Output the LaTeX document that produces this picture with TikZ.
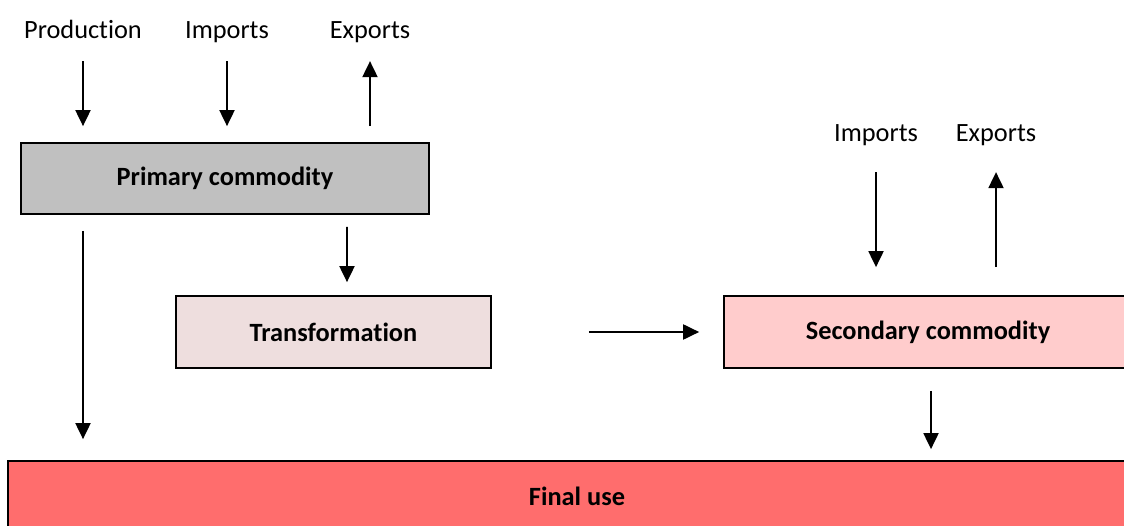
\documentclass[tikz,border=0pt]{standalone}
\usepackage{fontspec}
\setmainfont{Carlito}[Ligatures=NoCommon]
\usetikzlibrary{arrows.meta}
\definecolor{primgray}{HTML}{C0C0C0}
\definecolor{transpink}{HTML}{EEDEDE}
\definecolor{secpink}{HTML}{FFCCCC}
\definecolor{finalred}{HTML}{FF6D6D}
\begin{document}
\begin{tikzpicture}[x=0.02cm,y=-0.02cm,font=\fontsize{15}{18}\selectfont,
  box/.style={draw,line width=1pt,minimum width=8.16cm,minimum height=1.42cm,font=\fontsize{15}{18}\selectfont\bfseries},
  lab/.style={inner sep=0pt,text height=.75em,text depth=.25em},
  flow/.style={-{Triangle[length=3.2mm,width=3mm]},line width=1.1pt},
  gap/.style 2 args={shorten <=#1,shorten >=#2}]
 % \draw[help lines] (0,0) grid (1124,526);
  \clip (0,0) rectangle (1124,526);
  \node[lab] (prod)  at (83,34)   {Production};
  \node[lab] (impA)  at (227,34)  {Imports};
  \node[lab] (expA)  at (370,34)  {Exports};
  \node[lab] (impB)  at (876,137) {Imports};
  \node[lab] (expB)  at (996,137) {Exports};
  \node[box,fill=primgray] (prim)  at (225,178.5) {Primary commodity};
  \node[box,fill=transpink,minimum width=6.3cm,minimum height=1.44cm] (trans) at (333.5,332) {Transformation};
  \node[box,fill=secpink,minimum height=1.44cm] (sec) at (928,332) {Secondary commodity};
  \node[box,fill=finalred,minimum width=22.76cm,minimum height=1.4cm] (final) at (577,496) {Final use};
  \draw[flow,gap={3.6mm}{3.2mm}] (prod) -- (prod |- prim.north);
  \draw[flow,gap={3.6mm}{3.2mm}] (impA) -- (impA |- prim.north);
  \draw[flow,gap={3.2mm}{3.6mm}] (expA |- prim.north) -- (expA);
  \draw[flow,gap={3.2mm}{4.2mm}] (prod |- prim.south) -- (prod |- final.north);
  \draw[flow,gap={2.4mm}{2.6mm}] ([xshift=2.44cm]prim.south) -- ([xshift=0.27cm]trans.north);
  \draw[flow,gap={19.4mm}{4.8mm}] (trans.east) -- (sec.west);
  \draw[flow,gap={5.2mm}{5.6mm}] (impB) -- (impB |- sec.north);
  \draw[flow,gap={5.6mm}{5.2mm}] (expB |- sec.north) -- (expB);
  \draw[flow,gap={4.4mm}{2.2mm}] ([xshift=0.06cm]sec.south) -- ([xshift=0.06cm]sec.south |- final.north);
\end{tikzpicture}
\end{document}
